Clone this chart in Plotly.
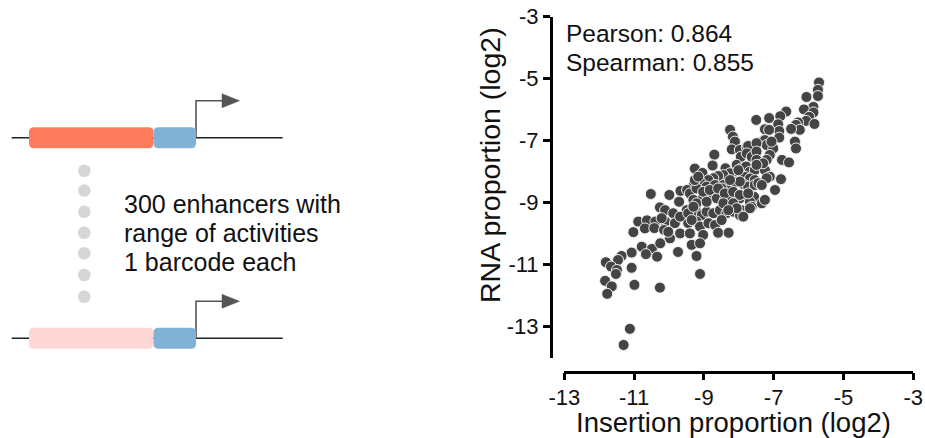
import plotly.graph_objects as go

W, H = 925, 438

insertion_log2 = [
    -5.70, -5.73, -5.73, -6.06, -5.86, -6.13, -5.86, -5.98, -6.07, -5.83,
    -6.30, -6.36, -6.25, -6.50, -6.64, -6.81, -7.13, -7.50, -6.87, -6.84,
    -7.25, -7.13, -6.84, -6.39, -6.36, -8.25, -8.17, -8.11, -8.20, -7.97,
    -7.77, -7.58, -7.39, -7.25, -7.20, -7.01, -7.06, -6.76, -6.56, -7.73,
    -8.70, -7.49, -7.94, -7.77, -7.63, -7.49, -8.75, -9.26, -9.04, -8.38,
    -8.25, -8.44, -8.59, -8.73, -8.87, -9.11, -9.28, -8.06, -7.92, -7.79,
    -7.68, -7.54, -7.97, -7.82, -7.68, -7.54, -8.06, -7.87, -7.73, -9.67,
    -9.48, -9.40, -8.92, -8.68, -8.44, -8.20, -9.99, -9.71, -9.21, -8.49,
    -7.97, -7.54, -9.30, -9.02, -8.83, -8.63, -8.40, -8.20, -7.97, -7.77,
    -7.56, -7.68, -10.26, -10.11, -9.88, -9.49, -9.21, -9.06, -8.92, -8.73,
    -8.54, -8.35, -8.16, -7.92, -7.97, -10.11, -9.83, -9.45, -9.21, -9.11,
    -8.87, -8.68, -8.49, -9.68, -9.40, -9.02, -8.59, -8.29, -9.97, -9.35,
    -9.11, -9.74, -9.21, -9.11, -10.88, -10.63, -10.39, -10.21, -11.02, -10.69,
    -10.42, -10.14, -10.02, -10.78, -10.49, -10.25, -10.34, -11.07, -10.66, -11.36,
    -11.46, -11.81, -11.66, -11.49, -11.52, -11.07, -11.83, -11.64, -11.77, -10.99,
    -10.26, -11.12, -11.30, -7.49, -7.25, -7.11, -7.20, -7.44, -6.79, -6.96,
    -7.11, -7.63, -7.87, -7.34, -7.25, -7.20, -7.30, -7.49, -8.01, -9.26,
    -8.25, -7.34, -9.02, -8.83, -8.59, -8.40, -8.16, -7.97, -7.73, -9.21,
    -8.92, -8.44, -8.16, -8.06, -8.30, -7.68, -10.52, -9.68, -9.45, -9.30,
    -9.35, -9.16,
]

rna_log2 = [
    -5.12, -5.36, -5.56, -5.59, -5.91, -5.99, -6.09, -6.23, -6.36, -6.46,
    -6.41, -6.49, -6.65, -6.62, -6.06, -6.21, -6.27, -6.33, -6.47, -6.69,
    -6.63, -6.65, -6.90, -7.03, -7.25, -6.65, -6.87, -7.03, -7.28, -7.30,
    -7.21, -7.28, -7.06, -6.98, -7.14, -7.25, -7.03, -7.62, -7.70, -7.17,
    -7.45, -7.08, -7.52, -7.41, -7.52, -7.35, -7.80, -7.90, -8.04, -7.89,
    -8.05, -8.11, -8.14, -8.21, -8.27, -8.32, -8.40, -7.78, -7.89, -7.83,
    -8.00, -7.95, -8.12, -8.17, -8.22, -8.27, -8.33, -8.40, -8.48, -8.62,
    -8.59, -8.70, -8.48, -8.43, -8.43, -8.48, -8.75, -8.97, -8.54, -8.54,
    -8.32, -8.43, -8.91, -8.81, -8.75, -8.86, -8.91, -8.81, -8.86, -8.75,
    -8.81, -8.97, -9.15, -9.24, -9.34, -9.24, -9.29, -9.40, -9.29, -9.34,
    -9.24, -9.34, -9.29, -9.24, -9.40, -9.61, -9.66, -9.66, -9.61, -9.77,
    -9.66, -9.72, -9.56, -9.99, -9.99, -10.04, -9.97, -9.97, -10.15, -10.36,
    -10.31, -10.59, -10.72, -11.30, -9.61, -9.57, -9.61, -9.50, -9.95, -9.83,
    -9.82, -9.88, -9.94, -10.42, -10.49, -10.31, -10.74, -10.61, -10.66, -10.72,
    -10.85, -10.92, -11.06, -11.17, -11.30, -11.10, -11.52, -11.70, -11.94, -11.65,
    -11.74, -13.07, -13.59, -7.62, -7.95, -8.16, -8.21, -8.37, -8.24, -8.59,
    -7.46, -9.13, -9.45, -9.02, -8.91, -7.62, -7.73, -7.78, -7.95, -8.27,
    -8.27, -8.43, -8.65, -8.59, -8.54, -8.70, -8.65, -8.75, -8.70, -9.02,
    -8.97, -9.02, -9.02, -9.18, -9.24, -9.18, -8.72, -9.45, -9.34, -9.13,
    -9.56, -8.16,
]

x_ticks = [-13, -11, -9, -7, -5, -3]
y_ticks = [-13, -11, -9, -7, -5, -3]
pearson_r = 0.864
spearman_r = 0.855
schematic_lines = ["300 enhancers with", "range of activities", "1 barcode each"]

FONT = "Liberation Sans, Arial, Helvetica, sans-serif"


def fx(x):
    return x / W


def fy(y):
    return 1 - y / H


def rrect(x0, y0, x1, y1, r):
    # rounded rectangle path in paper coords, given pixel coords
    pts = [
        f"M {fx(x0 + r)} {fy(y0)}",
        f"L {fx(x1 - r)} {fy(y0)}",
        f"Q {fx(x1)} {fy(y0)} {fx(x1)} {fy(y0 + r)}",
        f"L {fx(x1)} {fy(y1 - r)}",
        f"Q {fx(x1)} {fy(y1)} {fx(x1 - r)} {fy(y1)}",
        f"L {fx(x0 + r)} {fy(y1)}",
        f"Q {fx(x0)} {fy(y1)} {fx(x0)} {fy(y1 - r)}",
        f"L {fx(x0)} {fy(y0 + r)}",
        f"Q {fx(x0)} {fy(y0)} {fx(x0 + r)} {fy(y0)}",
        "Z",
    ]
    return " ".join(pts)


fig = go.Figure()
fig.add_trace(
    go.Scatter(
        x=insertion_log2,
        y=rna_log2,
        mode="markers",
        marker=dict(size=11, color="#444444", line=dict(color="#f0f0f0", width=1)),
        hoverinfo="skip",
        showlegend=False,
    )
)

shapes = []
for yl, fill in [(137.7, "#FF7B5C"), (338.3, "#FFD6D6")]:
    shapes.append(dict(type="line", xref="paper", yref="paper",
                       x0=fx(11.7), x1=fx(282.7), y0=fy(yl), y1=fy(yl),
                       line=dict(color="#222222", width=1.6)))
    ytop = yl - 37
    shapes.append(dict(type="path", xref="paper", yref="paper",
                       path=f"M {fx(196)} {fy(yl)} L {fx(196)} {fy(ytop)} L {fx(224)} {fy(ytop)}",
                       line=dict(color="#555555", width=1.6)))
    shapes.append(dict(type="path", xref="paper", yref="paper",
                       path=f"M {fx(222)} {fy(ytop - 7)} L {fx(239.5)} {fy(ytop)} L {fx(222)} {fy(ytop + 7)} Z",
                       fillcolor="#555555", line=dict(color="#555555", width=0.5)))
    shapes.append(dict(type="path", xref="paper", yref="paper",
                       path=rrect(29, yl - 10.5, 153.5, yl + 10.5, 5),
                       fillcolor=fill, line=dict(width=0)))
    shapes.append(dict(type="path", xref="paper", yref="paper",
                       path=rrect(153.5, yl - 10.5, 196, yl + 10.5, 5),
                       fillcolor="#80B2D6", line=dict(width=0)))

for cy in [170.7, 190.5, 211.7, 232.7, 253.3, 275, 296.7]:
    shapes.append(dict(type="circle", xref="paper", yref="paper",
                       x0=fx(78), x1=fx(90.6), y0=fy(cy - 6.3), y1=fy(cy + 6.3),
                       fillcolor="#D6D6D6", line=dict(width=0)))

annotations = []
for i, t in enumerate(schematic_lines):
    annotations.append(dict(text=t, xref="paper", yref="paper", x=fx(122), y=fy(204 + 29.2 * i),
                             xanchor="left", yanchor="middle", showarrow=False,
                             font=dict(size=25, family=FONT, color="#111111")))
annotations.append(dict(text=f"Pearson: {pearson_r:.3f}", xref="paper", yref="paper",
                        x=fx(564), y=fy(34), xanchor="left", yanchor="middle", showarrow=False,
                        font=dict(size=24.5, family=FONT, color="#111111")))
annotations.append(dict(text=f"Spearman: {spearman_r:.3f}", xref="paper", yref="paper",
                        x=fx(564), y=fy(62), xanchor="left", yanchor="middle", showarrow=False,
                        font=dict(size=24.5, family=FONT, color="#111111")))
annotations.append(dict(text="Insertion proportion (log2)", xref="paper", yref="paper",
                        x=fx(733), y=fy(422.5), xanchor="center", yanchor="middle", showarrow=False,
                        font=dict(size=27.5, family=FONT, color="#111111")))
annotations.append(dict(text="RNA proportion (log2)", xref="paper", yref="paper",
                        x=fx(490), y=fy(165), xanchor="center", yanchor="middle", showarrow=False,
                        textangle=-90,
                        font=dict(size=28.5, family=FONT, color="#111111")))

fig.update_layout(
    width=W, height=H,
    margin=dict(l=0, r=0, t=0, b=0),
    paper_bgcolor="white", plot_bgcolor="white",
    showlegend=False,
    font=dict(family=FONT, color="#111111"),
    xaxis=dict(domain=[fx(564.3), fx(913.2)], range=[-13, -3], anchor="free", position=fy(371.7),
               showline=True, linecolor="black", linewidth=2.5, ticks="outside", ticklen=7,
               tickwidth=2.5, tickcolor="black", tickvals=x_ticks, ticktext=[str(v) for v in x_ticks],
               tickfont=dict(size=22, family=FONT, color="#111111"), showgrid=False, zeroline=False,
               ticklabelstandoff=-2, automargin=False),
    yaxis=dict(domain=[fy(358.3), fy(16.7)], range=[-14.02, -3], anchor="free", position=fx(550.7),
               showline=True, linecolor="black", linewidth=2.5, ticks="outside", ticklen=7,
               tickwidth=2.5, tickcolor="black", tickvals=y_ticks, ticktext=[str(v) for v in y_ticks],
               tickfont=dict(size=22, family=FONT, color="#111111"), showgrid=False, zeroline=False,
               automargin=False),
    shapes=shapes,
    annotations=annotations,
)

fig.write_html("out.html")
